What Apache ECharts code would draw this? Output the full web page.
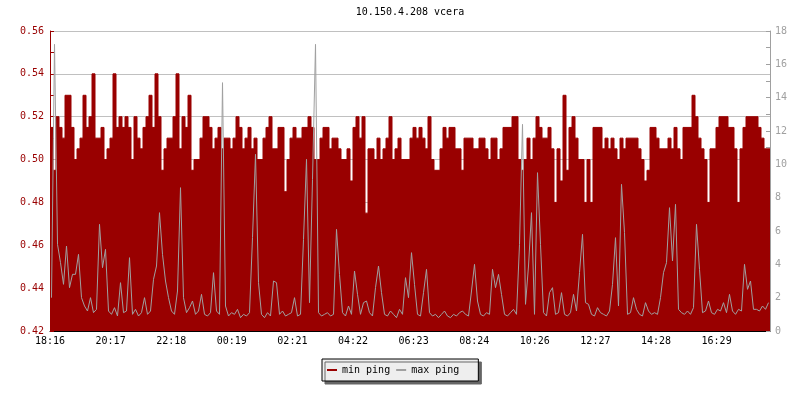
<!DOCTYPE html>
<html>
<head>
<meta charset="utf-8">
<script src="https://cdn.jsdelivr.net/npm/echarts@6/dist/echarts.min.js"></script>
<style>
html,body{margin:0;padding:0;background:#fff;}
#chart{width:800px;height:400px;}
</style>
</head>
<body>
<div id="chart"></div>
<script>
var titleText = '10.150.4.208 vcera';
var seriesNames = ['min ping', 'max ping'];
var xLabels = ['18:16','20:17','22:18','00:19','02:21','04:22','06:23','08:24','10:26','12:27','14:28','16:29'];

// min ping (left axis), one value per sample
var minPing = [
0.515,0.495,0.52,0.515,0.51,0.53,0.53,0.515,0.50,0.505,
0.51,0.53,0.515,0.52,0.54,0.51,0.51,0.515,0.50,0.505,
0.51,0.54,0.515,0.52,0.515,0.52,0.515,0.50,0.52,0.51,
0.505,0.515,0.52,0.53,0.515,0.54,0.52,0.495,0.505,0.51,
0.51,0.52,0.54,0.505,0.52,0.515,0.53,0.495,0.50,0.50,
0.51,0.52,0.52,0.515,0.505,0.51,0.515,0.505,0.51,0.51,
0.505,0.51,0.52,0.515,0.505,0.51,0.515,0.505,0.51,0.50,
0.50,0.51,0.515,0.52,0.505,0.505,0.515,0.515,0.485,0.50,
0.51,0.515,0.51,0.51,0.515,0.515,0.52,0.515,0.50,0.50,
0.51,0.515,0.515,0.505,0.51,0.51,0.505,0.50,0.50,0.505,
0.49,0.515,0.52,0.51,0.52,0.475,0.505,0.505,0.50,0.51,
0.50,0.505,0.51,0.52,0.50,0.505,0.51,0.50,0.50,0.50,
0.51,0.515,0.51,0.515,0.51,0.505,0.52,0.50,0.495,0.495,
0.505,0.515,0.51,0.515,0.515,0.505,0.505,0.495,0.51,0.51,
0.51,0.505,0.505,0.51,0.51,0.505,0.50,0.51,0.51,0.50,
0.505,0.515,0.515,0.515,0.52,0.52,0.50,0.495,0.50,0.51,
0.50,0.51,0.52,0.515,0.51,0.51,0.515,0.505,0.48,0.505,
0.49,0.53,0.495,0.515,0.52,0.51,0.50,0.50,0.48,0.50,
0.48,0.515,0.515,0.515,0.505,0.51,0.505,0.51,0.505,0.50,
0.51,0.505,0.51,0.51,0.51,0.51,0.505,0.50,0.49,0.495,
0.515,0.515,0.51,0.505,0.505,0.505,0.51,0.505,0.515,0.505,
0.50,0.515,0.515,0.515,0.53,0.52,0.51,0.505,0.50,0.48,
0.505,0.505,0.515,0.52,0.52,0.52,0.515,0.515,0.505,0.48,
0.505,0.515,0.52,0.52,0.52,0.52,0.515,0.51,0.505,0.505
];

// max ping (right axis)
var maxPing = [
2.0,17.2,5.2,4.1,2.8,5.1,2.6,3.4,3.4,4.6,
2.0,1.5,1.2,2.0,1.1,1.3,6.4,3.8,4.9,1.2,
1.0,1.4,0.9,2.9,1.1,1.2,4.4,1.0,1.3,0.9,
1.1,2.0,1.0,1.2,3.1,3.9,7.1,4.6,3.0,2.0,
1.2,1.0,2.4,8.6,2.0,1.1,1.4,1.8,1.0,1.2,
2.2,1.0,0.9,1.1,3.5,1.2,1.0,14.9,1.5,0.9,
1.1,1.0,1.3,0.8,1.0,0.9,1.1,5.6,10.6,2.9,
1.0,0.8,1.1,0.9,3.0,2.9,1.0,1.2,0.9,1.0,
1.1,2.0,0.9,1.0,5.5,10.3,1.7,9.1,17.2,1.1,
0.9,1.0,1.1,0.9,1.0,6.1,3.4,1.1,0.9,1.5,
1.0,3.6,2.2,1.0,1.7,1.8,1.1,0.9,2.6,3.9,
2.3,1.0,0.9,1.2,1.0,0.8,1.3,1.0,3.2,2.0,
4.7,2.8,1.0,0.9,2.3,3.7,1.1,0.9,1.0,0.8,
1.0,1.2,0.9,0.8,1.0,0.9,1.1,1.2,1.0,0.9,
2.4,4.0,1.8,1.0,0.9,1.1,1.0,3.7,2.6,3.4,
2.2,1.0,0.9,1.1,1.3,1.0,5.2,12.4,1.6,3.9,
7.1,1.0,9.5,5.2,1.1,0.9,2.3,2.6,1.0,1.1,
2.3,1.0,0.9,1.1,2.2,1.2,3.5,5.8,1.7,1.6,
1.0,0.9,1.4,1.1,1.0,0.9,1.2,2.8,5.6,1.5,
8.8,5.9,1.0,1.1,2.0,1.3,1.0,0.9,1.7,1.2,
1.0,1.1,1.0,2.0,3.5,4.1,7.4,4.2,7.6,1.3,
1.1,1.0,1.2,1.0,1.4,6.4,3.7,1.1,1.2,1.8,
1.1,1.0,1.3,1.2,1.7,1.1,2.2,1.2,1.0,1.3,
1.2,4.0,2.5,3.0,1.3,1.3,1.2,1.5,1.3,1.7
];

var FONT = 'DejaVu Sans Mono';
var RED = '#990000';
var GRAY = '#a0a0a0';
var N = minPing.length;
var tickStep = 20.2;

function toStepPairs(arr) {
  var out = arr.map(function (v, i) { return [i, v]; });
  out.push([arr.length, arr[arr.length - 1]]);
  return out;
}
function toMidPairs(arr) {
  return arr.map(function (v, i) { return [i + 0.5, v]; });
}

var chart = echarts.init(document.getElementById('chart'), null, {renderer: 'canvas'});
chart.setOption({
  animation: false,
  backgroundColor: '#ffffff',
  title: {
    text: titleText,
    left: 410,
    top: 7,
    padding: 0,
    textAlign: 'center',
    textStyle: {fontFamily: FONT, fontSize: 10, fontWeight: 'normal', color: '#000'}
  },
  legend: {
    data: seriesNames,
    left: 322,
    top: 359,
    padding: [5, 19, 5, 5],
    itemGap: 6,
    itemWidth: 10,
    itemHeight: 2,
    icon: 'rect',
    backgroundColor: '#eeeeee',
    borderColor: '#000000',
    borderWidth: 1,
    borderRadius: 0,
    shadowColor: '#666666',
    shadowBlur: 0,
    shadowOffsetX: 3,
    shadowOffsetY: 3,
    textStyle: {fontFamily: FONT, fontSize: 10, color: '#000', lineHeight: 12}
  },
  grid: {left: 50, right: 30, top: 31, bottom: 69, containLabel: false},
  xAxis: {
    type: 'value',
    min: 0,
    max: N,
    interval: tickStep,
    axisLine: {show: true, onZero: false, lineStyle: {color: '#000', width: 1}},
    axisTick: {show: true, inside: true, length: 5, lineStyle: {color: '#000'}},
    splitLine: {show: false},
    axisLabel: {
      fontFamily: FONT, fontSize: 10, color: '#000', margin: 5,
      showMaxLabel: false,
      formatter: function (v) { var k = Math.round(v / tickStep); return xLabels[k] || ''; }
    }
  },
  yAxis: [
    {
      type: 'value', position: 'left', min: 0.42, max: 0.56, interval: 0.02,
      axisLine: {show: true, onZero: false, lineStyle: {color: RED}},
      axisTick: {show: true, inside: true, length: 4, lineStyle: {color: RED}},
      minorTick: {show: true, splitNumber: 2, length: 4, lineStyle: {color: RED}},
      splitLine: {show: true, lineStyle: {color: '#c0c0c0', width: 1}},
      axisLabel: {fontFamily: FONT, fontSize: 10, color: RED, margin: 6,
        formatter: function (v) { return v.toFixed(2); }}
    },
    {
      type: 'value', position: 'right', min: 0, max: 18, interval: 2,
      axisLine: {show: true, onZero: false, lineStyle: {color: GRAY}},
      axisTick: {show: true, inside: true, length: 4, lineStyle: {color: GRAY}},
      minorTick: {show: true, splitNumber: 2, length: 4, lineStyle: {color: GRAY}},
      splitLine: {show: false},
      axisLabel: {fontFamily: FONT, fontSize: 10, color: GRAY, margin: 5}
    }
  ],
  series: [
    {
      name: seriesNames[0], type: 'line', yAxisIndex: 0, step: 'end',
      symbol: 'none', color: RED,
      lineStyle: {color: RED, width: 1},
      areaStyle: {color: RED, opacity: 1, origin: 'start'},
      data: toStepPairs(minPing), z: 2
    },
    {
      name: seriesNames[1], type: 'line', yAxisIndex: 1,
      symbol: 'none', color: GRAY,
      lineStyle: {color: GRAY, width: 1},
      data: toMidPairs(maxPing), z: 3
    }
  ]
});
</script>
</body>
</html>
